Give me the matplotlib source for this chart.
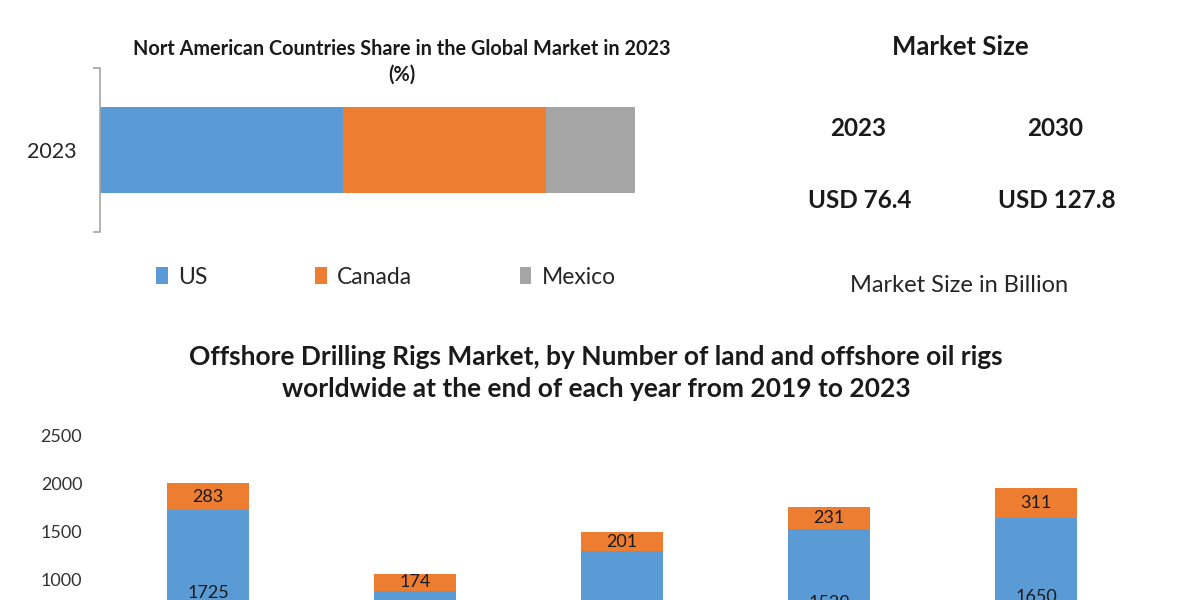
import matplotlib
matplotlib.use("Agg")
import matplotlib.pyplot as plt
from matplotlib.patches import Patch

plt.rcParams['font.family'] = ['Lato', 'DejaVu Sans']

# ---------------- data ----------------
share_year = ["2023"]
countries = ["US", "Canada", "Mexico"]
country_shares = [45.4, 38.0, 16.6]

market_years = ["2023", "2030"]
market_values = ["USD 76.4", "USD 127.8"]

rig_years = ["2019", "2020", "2021", "2022", "2023"]
rigs_land = [1725, 890, 1300, 1529, 1650]
rigs_offshore = [283, 174, 201, 231, 311]

BLUE = "#5B9BD5"
ORANGE = "#ED7D31"
GRAY = "#A5A5A5"
TXT = "#1a1a1a"
colors = [BLUE, ORANGE, GRAY]

fig = plt.figure(figsize=(12, 6), dpi=100)
fig.patch.set_facecolor("white")

# ---------------- top-left: share bar ----------------
ax1 = fig.add_axes([100/1200, 1-232/600, 535/1200, 164/600])
left = 0
for name, val, col in zip(countries, country_shares, colors):
    ax1.barh(share_year, [val], left=left, height=0.524, color=col, label=name)
    left += val
ax1.set_xlim(0, sum(country_shares))
ax1.set_ylim(-0.5, 0.5)
for s in ["top", "right", "bottom"]:
    ax1.spines[s].set_visible(False)
ax1.spines["left"].set_color("#A6A6A6")
ax1.spines["left"].set_linewidth(1.2)
ax1.set_xticks([])
ax1.set_yticks([0])
ax1.set_yticklabels(share_year, fontsize=15.5, color="#262626")
ax1.tick_params(axis="y", which="major", length=0, pad=16.5)
ax1.set_yticks([-0.5, 0.5], minor=True)
ax1.tick_params(axis="y", which="minor", length=5, color="#A6A6A6", width=1.2)

handles = [Patch(facecolor=c, edgecolor="none") for c in colors]
fig.legend(handles, countries, loc="center", bbox_to_anchor=(386/1200, 1-277/600),
           ncol=3, frameon=False, fontsize=16.5, handlelength=0.5, handleheight=0.75,
           handletextpad=0.45, columnspacing=4.7, labelcolor="#262626")

fig.text(402/1200, 1-49/600, "Nort American Countries Share in the Global Market in 2023",
         ha="center", va="center", fontsize=14.3, fontweight="bold", color=TXT)
fig.text(402/1200, 1-75/600, "(%)", ha="center", va="center", fontsize=14.3,
         fontweight="bold", color=TXT)

# ---------------- top-right: market size ----------------
fig.text(960/1200, 1-47/600, "Market Size", ha="center", va="center",
         fontsize=18.5, fontweight="bold", color=TXT)
for xpx, yr, val in zip([858, 1055], market_years, market_values):
    fig.text(xpx/1200, 1-128/600, yr, ha="center", va="center",
             fontsize=17.5, fontweight="bold", color=TXT)
    fig.text(xpx/1200 + 2/1200, 1-201/600, val, ha="center", va="center",
             fontsize=17.5, fontweight="bold", color=TXT)
fig.text(959/1200, 1-285/600, "Market Size in Billion", ha="center", va="center",
         fontsize=17, color="#262626")

# ---------------- bottom: stacked columns ----------------
fig.text(596/1200, 1-357/600,
         "Offshore Drilling Rigs Market, by Number of land and offshore oil rigs",
         ha="center", va="center", fontsize=19, fontweight="bold", color=TXT)
fig.text(596/1200, 1-389/600,
         "worldwide at the end of each year from 2019 to 2023",
         ha="center", va="center", fontsize=19, fontweight="bold", color=TXT)

ax2 = fig.add_axes([104.5/1200, 1-676/600, 1035/1200, 240/600])
x = list(range(len(rig_years)))
b1 = ax2.bar(x, rigs_land, width=0.4, color=BLUE)
b2 = ax2.bar(x, rigs_offshore, width=0.4, bottom=rigs_land, color=ORANGE)
ax2.bar_label(b1, labels=[str(v) for v in rigs_land], label_type="center",
              fontsize=13, color=TXT)
ax2.bar_label(b2, labels=[str(v) for v in rigs_offshore], label_type="center",
              fontsize=13, color=TXT)
ax2.set_xlim(-0.5, len(rig_years) - 0.5)
ax2.set_ylim(0, 2500)
ax2.set_yticks([0, 500, 1000, 1500, 2000, 2500])
ax2.tick_params(axis="y", length=0, pad=16, labelsize=13, labelcolor="#333333")
ax2.set_xticks(x)
ax2.set_xticklabels(rig_years)
for s in ["top", "right", "left"]:
    ax2.spines[s].set_visible(False)
ax2.spines["bottom"].set_color("#D9D9D9")

fig.savefig("out.png", dpi=100)
